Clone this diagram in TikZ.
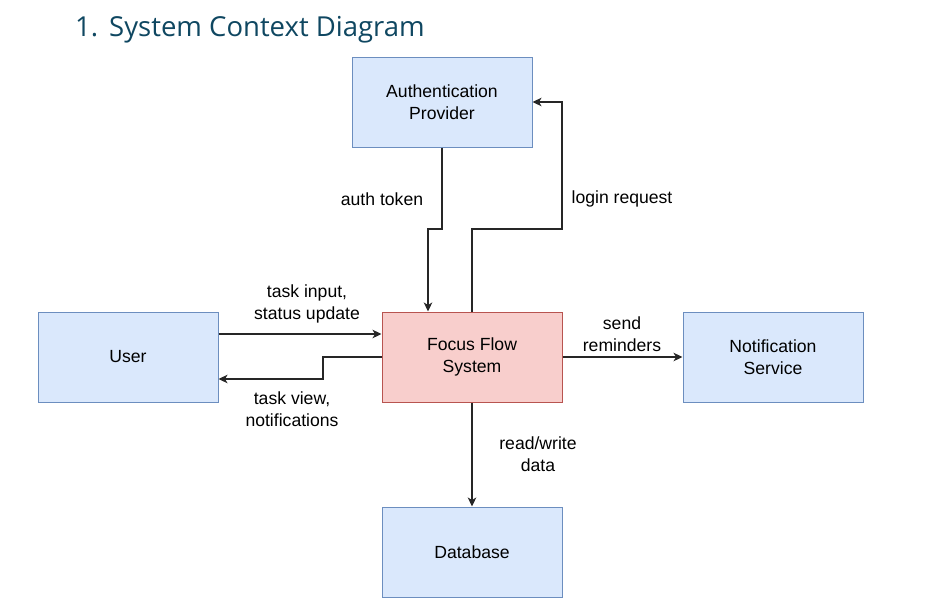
\documentclass[tikz,border=0pt]{standalone}
\usepackage{fontspec}
\setmainfont{Liberation Sans}
\newfontfamily\titlefont{Open Sans}
\usetikzlibrary{arrows.meta}
\definecolor{boxblue}{HTML}{DAE8FC}
\definecolor{lineblue}{HTML}{6C8EBF}
\definecolor{boxred}{HTML}{F8CECC}
\definecolor{linered}{HTML}{B85450}
\definecolor{headblue}{HTML}{0F4761}
\begin{document}
\begin{tikzpicture}[x=1pt,y=-1pt,
    box/.style={draw=lineblue,fill=boxblue,line width=1pt,minimum width=180pt,
      minimum height=90pt,align=center,font=\fontsize{17.6}{22}\selectfont},
    sysbox/.style={box,draw=linered,fill=boxred},
    flow/.style={draw=black!85,line width=1.4pt,-{Stealth[length=9pt,width=8.5pt,inset=2.5pt]}},
    lbl/.style={align=center,inner sep=0pt,font=\fontsize{17.6}{22}\selectfont}]
  \useasboundingbox (0,0) rectangle (928,613);
  \node[anchor=base west,inner sep=0pt,text=headblue,
    font=\titlefont\fontsize{27.5}{33}\selectfont] (title) at (75,36) {1.\hspace{11pt}System Context Diagram};

  % boxes
  \node[box] (auth) at (442,102) {Authentication\\Provider};
  \node[box] (user) at (128,357) {User};
  \node[sysbox] (sys) at (472,357) {Focus Flow\\System};
  \node[box] (notif) at (773,357) {Notification\\Service};
  \node[box] (db) at (472,552) {Database};

  % bends
  \coordinate (tokbend) at (442,229);
  \coordinate (loginbend) at (562,229);
  \coordinate (inrow) at (300,334);
  \coordinate (viewbend) at (323,379);

  \draw[flow] (auth.south) -- (tokbend) -| ([xshift=-44pt]sys.north);
  \draw[flow] (sys.north) |- (loginbend) |- (auth.east);
  \draw[flow] (user.east |- inrow) -- (sys.west |- inrow);
  \draw[flow] (sys.west) -| (viewbend) -- (user.east |- viewbend);
  \draw[flow] (sys.east) -- (notif.west);
  \draw[flow] (sys.south) -- (db.north);

  % labels
  \node[lbl] (ltoken) at (382,199) {auth token};
  \node[lbl] (llogin) at (622,199) {login request};
  \node[lbl] (linput) at (307,304) {task input,\\status update};
  \node[lbl] (lview) at (292,409) {task view,\\notifications};
  \node[lbl] (lsend) at (622,334) {send\\reminders};
  \node[lbl] (lrw) at (538,454) {read/write\\data};
\end{tikzpicture}
\end{document}
